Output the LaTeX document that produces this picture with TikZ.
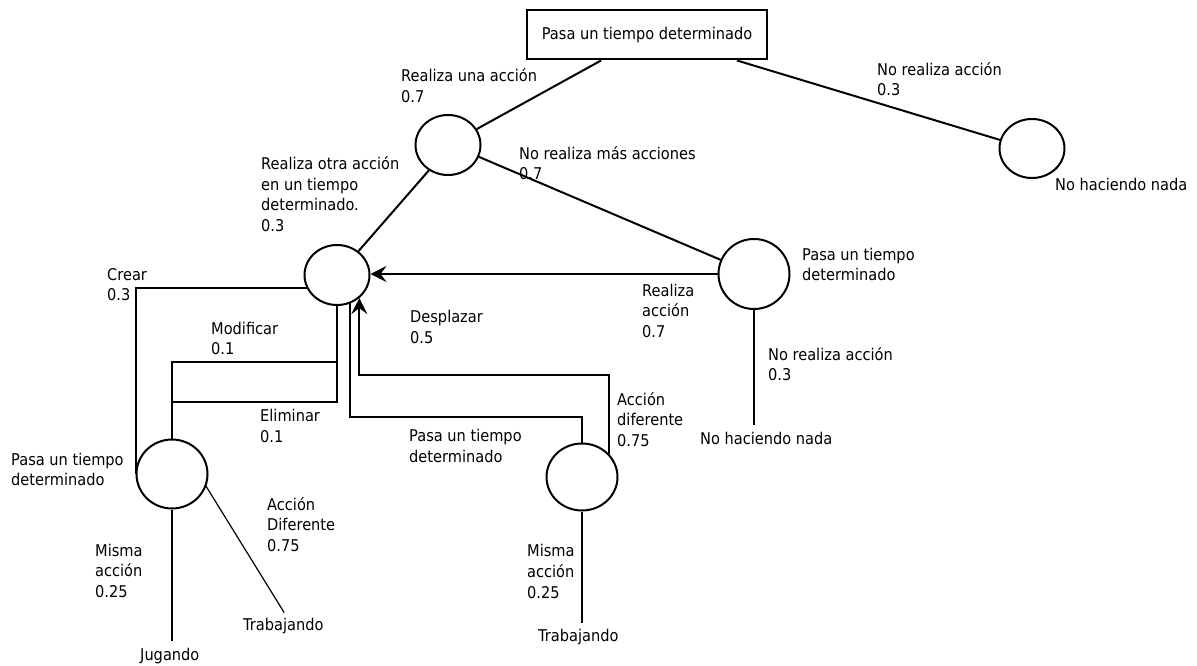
\documentclass[tikz,border=0pt]{standalone}
\usepackage{fontspec}
\setmainfont{DejaVu Sans}[FakeStretch=0.9]
\usetikzlibrary{shapes.geometric,arrows.meta,calc}
\newcommand\fl{\rule{0pt}{13pt}}
\begin{document}
\begin{tikzpicture}[x=1pt,y=-1pt,
  every node/.style={font=\fontsize{16.2}{20.7}\selectfont, text=black},
  lbl/.style={anchor=north west, inner sep=0pt, align=left},
  st/.style={draw, ellipse, line width=2pt, inner sep=0pt},
  ln/.style={line width=2pt},
  thinln/.style={line width=1.2pt},
  tipstyle/.style={line width=2pt},
  leafln/.style={line width=2pt, shorten >=6pt}]
\useasboundingbox (0,0) rectangle (1197,666);

% box
\node[draw, line width=2pt, minimum width=240pt, minimum height=49pt, inner sep=0pt] (top) at (647,35) {Pasa un tiempo determinado};

% states
\node[st, minimum width=65pt, minimum height=60pt] (A) at (448,145) {};
\node[st, minimum width=65pt, minimum height=59pt] (B) at (1032,148.5) {};
\node[st, minimum width=71pt, minimum height=70pt] (C) at (754,274) {};
\node[st, minimum width=65pt, minimum height=60pt] (D) at (337,275) {};
\node[st, minimum width=71pt, minimum height=69pt] (E) at (172,474) {};
\node[st, minimum width=71pt, minimum height=67pt] (F) at (582,477) {};

% labels
\node[lbl] (lA) at (401,68.5) {\fl Realiza una acción\\0.7};
\node[lbl] (lnm) at (519,146) {\fl No realiza más acciones\\0.7};
\node[lbl] (lnr) at (877,62) {\fl No realiza acción\\0.3};
\node[lbl] (nB) at (1055,177.7) {\fl No haciendo nada};
\node[lbl] (lotra) at (261,156.3) {\fl Realiza otra acción\\en un tiempo\\determinado.\\0.3};
\node[lbl] (lcrear) at (107,267) {\fl Crear\\0.3};
\node[lbl] (lmod) at (211,321) {\fl Modificar\\0.1};
\node[lbl] (lelim) at (260,408.7) {\fl Eliminar\\0.1};
\node[lbl] (ldesp) at (410,309.7) {\fl Desplazar\\0.5};
\node[lbl] (lra) at (642,283) {\fl Realiza\\acción\\0.7};
\node[lbl] (lC) at (802,247) {\fl Pasa un tiempo\\determinado};
\node[lbl] (lCn) at (768,347) {\fl No realiza acción\\0.3};
\node[lbl] (nC) at (700,431) {\fl No haciendo nada};
\node[lbl] (lad) at (617,392) {\fl Acción\\diferente\\0.75};
\node[lbl] (lF) at (409,428.7) {\fl Pasa un tiempo\\determinado};
\node[lbl] (lE) at (11,452) {\fl Pasa un tiempo\\determinado};
\node[lbl] (lEm) at (95,543) {\fl Misma\\acción\\0.25};
\node[lbl] (lEd) at (267,497) {\fl Acción\\Diferente\\0.75};
\node[lbl] (tE) at (243,617.7) {\fl Trabajando};
\node[lbl] (jug) at (140,647) {\fl Jugando};
\node[lbl] (lFm) at (527,543.7) {\fl Misma\\acción\\0.25};
\node[lbl] (tF) at (538,628.7) {\fl Trabajando};

% connectors
\draw[ln] ($(top.south west)!0.31!(top.south east)$) -- (A.29);
\draw[ln] ($(top.south west)!0.872!(top.south east)$) -- (B.165);
\draw[ln] (A.-21) -- (C.157);
\draw[ln] (A.233) -- (D.48);
\draw[ln, -{Stealth[length=16pt,width=16pt,inset=6pt]}] (C.west) -- (C.west -| D.east);
\draw[leafln] (C.south) -- (C.south |- nC.north);
\draw[ln] (D.203) -| (E.west);
\draw[ln] (D.south) -- ++(0,56) -| (E.north);
\draw[ln] (D.south) -- ++(0,96) -| (E.north);
\draw[ln] (D.295) -- ++(0,113.5) -| (F.north);
\draw[ln, {Stealth[length=16pt,width=16pt,inset=6pt]}-] (D.314) -- ++(0,77) -| (F.40);
\draw[leafln] (E.south) -- (E.south |- jug.north);
\draw[thinln, shorten >=6pt] (E.-20) -- ($(tE.north)+(4,0)$);
\draw[leafln] (F.south) -- (F.south |- tF.north);
\end{tikzpicture}
\end{document}
